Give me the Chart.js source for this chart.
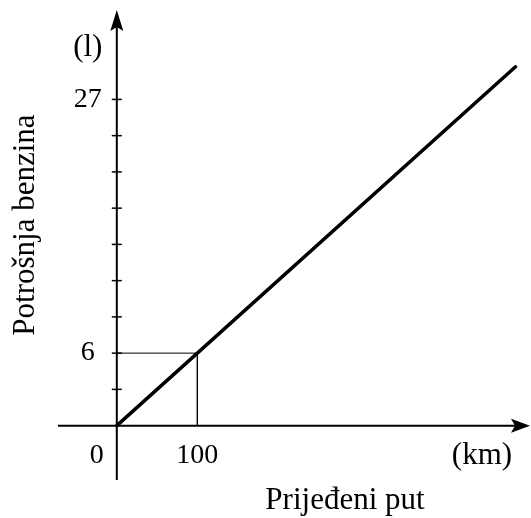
<!DOCTYPE html>
<html>
<head>
<meta charset="utf-8">
<script src="https://cdn.jsdelivr.net/npm/chart.js@4.4.1/dist/chart.umd.min.js"></script>
<style>
  html, body { margin: 0; padding: 0; background: #fff; }
  #wrap { width: 531px; height: 518px; }
</style>
</head>
<body>
<div id="wrap"><canvas id="chart" width="531" height="518"></canvas></div>
<script>
// data
const distance = [0, 495];          // km
const fuel = [0, 29.7];             // litres
const guideX = [0, 100, 100];
const guideY = [6, 6, 0];
const yTickMarks = [3, 6, 9, 12, 15, 18, 21, 24, 27];
const yTickLabels = [6, 27];
const xTickLabels = [0, 100];
const xUnit = '(km)';
const yUnit = '(l)';
const xTitle = 'Prijeđeni put';
const yTitle = 'Potrošnja benzina';

const NUM_FONT = '28px "Liberation Serif", "DejaVu Serif", serif';
const TXT_FONT = '31px "Liberation Serif", "DejaVu Serif", serif';

const axesPlugin = {
  id: 'axes',
  beforeDatasetsDraw(chart) {
    const ctx = chart.ctx;
    const xs = chart.scales.x, ys = chart.scales.y;
    const ox = xs.getPixelForValue(0), oy = ys.getPixelForValue(0);
    const left = chart.chartArea.left, right = chart.chartArea.right;
    const top = chart.chartArea.top, bottom = chart.chartArea.bottom;
    ctx.save();
    ctx.strokeStyle = '#000';
    ctx.fillStyle = '#000';
    ctx.lineWidth = 2;
    // x axis
    ctx.beginPath();
    ctx.moveTo(left, oy);
    ctx.lineTo(right - 10, oy);
    ctx.stroke();
    // y axis
    ctx.beginPath();
    ctx.moveTo(ox, bottom);
    ctx.lineTo(ox, top + 10);
    ctx.stroke();
    // arrow heads
    ctx.beginPath();
    ctx.moveTo(right, oy);
    ctx.lineTo(right - 19, oy - 7);
    ctx.lineTo(right - 15, oy);
    ctx.lineTo(right - 19, oy + 7);
    ctx.closePath();
    ctx.fill();
    ctx.beginPath();
    ctx.moveTo(ox, top);
    ctx.lineTo(ox - 6.5, top + 21);
    ctx.lineTo(ox, top + 17);
    ctx.lineTo(ox + 6.5, top + 21);
    ctx.closePath();
    ctx.fill();
    // y tick marks
    ctx.lineWidth = 1.5;
    yTickMarks.forEach(v => {
      const py = ys.getPixelForValue(v);
      ctx.beginPath();
      ctx.moveTo(ox - 5, py);
      ctx.lineTo(ox + 5, py);
      ctx.stroke();
    });
    // labels
    ctx.textAlign = 'center';
    ctx.textBaseline = 'middle';
    ctx.font = NUM_FONT;
    yTickLabels.forEach(v => {
      ctx.fillText(String(v), ox - 29, ys.getPixelForValue(v));
    });
    xTickLabels.forEach(v => {
      const px = v === 0 ? ox - 20 : xs.getPixelForValue(v);
      ctx.fillText(String(v), px, oy + 30);
    });
    ctx.font = TXT_FONT;
    ctx.fillText(yUnit, ox - 29, top + 38);
    ctx.fillText(xUnit, 482, oy + 30);
    ctx.fillText(xTitle, 345, oy + 75);
    ctx.translate(26, 225);
    ctx.rotate(-Math.PI / 2);
    ctx.fillText(yTitle, 0, 0);
    ctx.restore();
  }
};

new Chart('chart', {
  type: 'scatter',
  data: {
    datasets: [
      {
        data: guideX.map((x, i) => ({ x: x, y: guideY[i] })),
        showLine: true,
        borderColor: '#000',
        borderWidth: 1,
        pointRadius: 0
      },
      {
        data: distance.map((x, i) => ({ x: x, y: fuel[i] })),
        showLine: true,
        borderColor: '#000',
        borderWidth: 3.5,
        pointRadius: 0,
        borderCapStyle: 'round'
      }
    ]
  },
  options: {
    responsive: false,
    animation: false,
    layout: { padding: { left: 58, right: 1, top: 10, bottom: 38 } },
    plugins: { legend: { display: false }, tooltip: { enabled: false } },
    scales: {
      x: { type: 'linear', min: -73, max: 513, display: false },
      y: { type: 'linear', min: -4.5, max: 34.4, display: false }
    }
  },
  plugins: [axesPlugin]
});
</script>
</body>
</html>
